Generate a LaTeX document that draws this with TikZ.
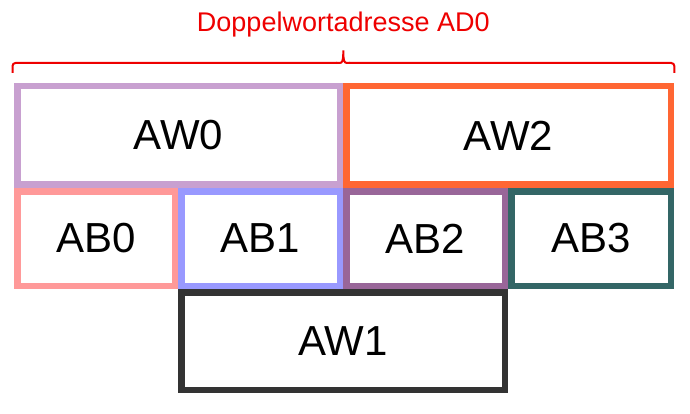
\documentclass[tikz,border=0pt]{standalone}
\usepackage{fontspec}
\setmainfont{Liberation Sans}
\definecolor{cAWnull}{HTML}{C8A0D0}
\definecolor{cAWzwei}{HTML}{FF6633}
\definecolor{cABnull}{HTML}{FF9999}
\definecolor{cABeins}{HTML}{9999FF}
\definecolor{cABzwei}{HTML}{996699}
\definecolor{cABdrei}{HTML}{336666}
\definecolor{cAWeins}{HTML}{333333}
\definecolor{cbrace}{HTML}{EE0000}
\begin{document}
\begin{tikzpicture}[x=1pt,y=-1pt,
  cell/.style={draw, line width=6.5pt, fill=white, inner sep=0pt, outer sep=0pt,
    font=\fontsize{42}{48}\selectfont, text=black},
  bracepath/.style={draw=cbrace, line width=2pt},
  bracelabel/.style={text=cbrace, font=\fontsize{27}{32}\selectfont, inner sep=0pt}]
\useasboundingbox (0,0) rectangle (690,414);
\node[cell, draw=cAWnull, minimum width=322.5pt, minimum height=98.5pt] (aw0) at (178.5,135.5) {AW0};
\node[cell, draw=cAWzwei, minimum width=324.5pt, minimum height=98.5pt] (aw2) at (508.5,135.5) {AW2};
\node[cell, draw=cABnull, minimum width=157.5pt, minimum height=94.5pt] (ab0) at (96,238.5) {AB0};
\node[cell, draw=cABeins, minimum width=158.5pt, minimum height=94.5pt] (ab1) at (260.5,238.5) {AB1};
\node[cell, draw=cABzwei, minimum width=158.5pt, minimum height=94.5pt] (ab2) at (425.5,238.5) {AB2};
\node[cell, draw=cABdrei, minimum width=159.5pt, minimum height=94.5pt] (ab3) at (591,238.5) {AB3};
\node[cell, draw=cAWeins, minimum width=323.5pt, minimum height=97.5pt] (aw1) at (343,341) {AW1};
\coordinate (bl) at (12.5,73);
\coordinate (br) at (674.3,73);
\coordinate (btip) at (343.3,50.5);
\draw[bracepath, rounded corners=3pt] (bl) -- (12.5,63) -- (337,63);
\draw[bracepath] (336,63) -- (339.5,63) .. controls (342.5,63) and (343.3,61) .. (btip)
  .. controls (343.3,61) and (344.1,63) .. (347.1,63) -- (350,63);
\draw[bracepath, rounded corners=3pt] (349,63) -- (674.3,63) -- (br);
\node[bracelabel, anchor=base] (lbl) at (343.3,31.7) {Doppelwortadresse AD0};
\end{tikzpicture}
\end{document}
